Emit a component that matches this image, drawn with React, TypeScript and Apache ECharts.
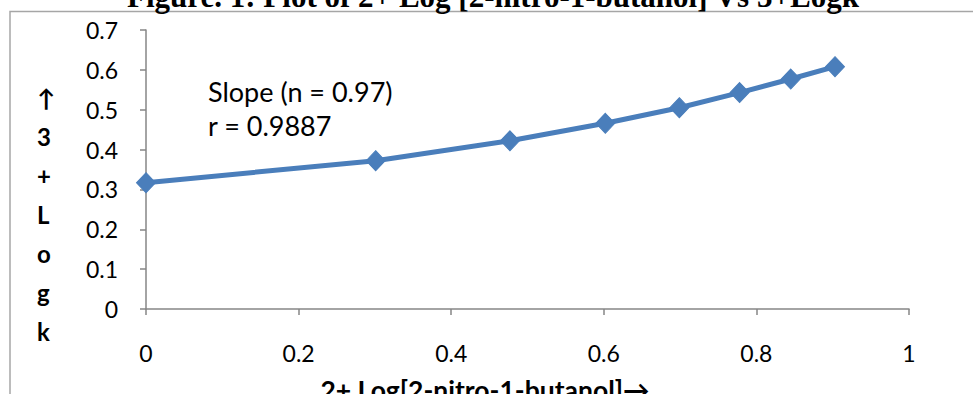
import React, { useEffect, useRef } from "react";
import * as echarts from "echarts";

const xValues = [0, 0.301, 0.477, 0.602, 0.699, 0.778, 0.845, 0.903];
const yValues = [0.317, 0.372, 0.422, 0.466, 0.505, 0.543, 0.577, 0.608];
const titleText = "Figure. 1: Plot of 2+ Log [2-nitro-1-butanol] Vs 3+Logk";
const xAxisTitle = "2+ Log[2-nitro-1-butanol]\u2192";
const yAxisTitleChars = ["\u2191", "3", "+", "L", "o", "g", "k"];
const annotationLines = ["Slope (n = 0.97)", "r = 0.9887"];

const BLUE = "#4a7ebb";
const AXIS = "#868686";

export default function App() {
  const ref = useRef<HTMLDivElement>(null);
  useEffect(() => {
    if (!ref.current) return;
    const chart = echarts.init(ref.current, undefined, { renderer: "svg" });
    const data = xValues.map((x, i) => [x, yValues[i]]);
    chart.setOption({
      animation: false,
      backgroundColor: "#ffffff",
      grid: { left: 146, right: 64, top: 30, bottom: 85, containLabel: false, outerBoundsMode: "none" },
      xAxis: {
        type: "value",
        min: 0,
        max: 1,
        interval: 0.2,
        axisLine: { show: true, onZero: false, lineStyle: { color: AXIS, width: 1.5 } },
        axisTick: { show: true, length: 6, lineStyle: { color: AXIS, width: 1.5 } },
        splitLine: { show: false },
        axisLabel: { color: "#000", fontFamily: "Lato", fontSize: 23, margin: 32 },
      },
      yAxis: {
        type: "value",
        min: 0,
        max: 0.7,
        interval: 0.1,
        axisLine: { show: true, onZero: false, lineStyle: { color: AXIS, width: 1.5 } },
        axisTick: { show: true, length: 6, lineStyle: { color: AXIS, width: 1.5 } },
        splitLine: { show: false },
        axisLabel: { color: "#000", fontFamily: "Lato", fontSize: 23, margin: 28 },
      },
      series: [
        {
          type: "line",
          data,
          symbol: "diamond",
          symbolSize: [19, 20],
          lineStyle: { color: BLUE, width: 5 },
          itemStyle: { color: BLUE, borderColor: BLUE },
          z: 3,
        },
      ],
      graphic: [
        {
          type: "rect",
          shape: { x: 10, y: 11.5, width: 1200, height: 600 },
          style: { fill: "none", stroke: "#a6a6a6", lineWidth: 1.5 },
          silent: true,
        },
        {
          type: "text",
          x: 493,
          y: -4,
          style: {
            text: titleText,
            fontFamily: "Liberation Serif",
            fontWeight: "bold",
            fontSize: 31,
            fill: "#000",
            align: "center",
            verticalAlign: "middle",
          },
        },
        {
          type: "text",
          x: 37,
          y: 78,
          style: {
            text: yAxisTitleChars.join("\n"),
            fontFamily: "Lato",
            fontWeight: "bold",
            fontSize: 24,
            lineHeight: 39,
            fill: "#000",
            align: "left",
            verticalAlign: "top",
          },
        },
        {
          type: "text",
          x: 485,
          y: 390,
          style: {
            text: xAxisTitle,
            fontFamily: "Lato",
            fontWeight: "bold",
            fontSize: 26.5,
            fill: "#000",
            align: "center",
            verticalAlign: "middle",
          },
        },
        {
          type: "text",
          x: 208,
          y: 74,
          style: {
            text: annotationLines.join("\n"),
            fontFamily: "Lato",
            fontSize: 27,
            lineHeight: 34,
            fill: "#000",
            align: "left",
            verticalAlign: "top",
          },
        },
      ],
    });
    return () => chart.dispose();
  }, []);
  return (
    <div
      ref={ref}
      style={{ position: "absolute", left: 0, top: 0, width: 973, height: 394, background: "#fff" }}
    />
  );
}
